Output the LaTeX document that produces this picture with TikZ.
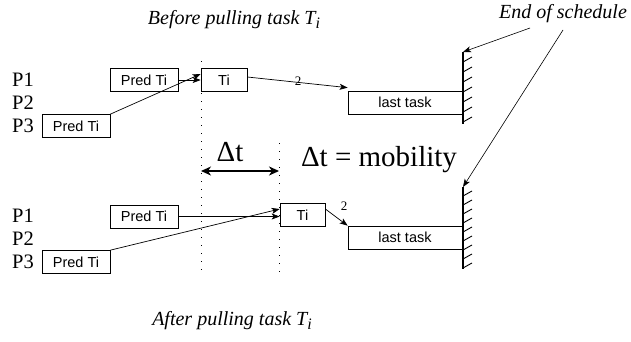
\documentclass[tikz,border=0pt]{standalone}
\usepackage{fontspec}
\setmainfont{Liberation Serif}
\setsansfont{Liberation Sans}
\usetikzlibrary{arrows.meta}
\newcommand{\myTi}{\textit{T}\raisebox{-0.4ex}{\itshape\fontsize{16}{16}\selectfont i}}
\begin{document}
\begin{tikzpicture}[x=1pt,y=-1pt,
  box/.style={draw,line width=0.7pt,inner sep=0pt,font=\sffamily\fontsize{14.5}{14.5}\selectfont,minimum width=68pt,minimum height=23pt},
  tibox/.style={box,minimum width=46pt},
  lastbox/.style={box,minimum width=114pt},
  conn/.style={line width=0.7pt,-{Stealth[length=8pt,width=6pt,inset=2pt]}},
  proc/.style={font=\fontsize{20.5}{20.5}\selectfont},
  ttl/.style={font=\itshape\fontsize{20}{20}\selectfont},
  big/.style={font=\fontsize{29}{29}\selectfont},
  small/.style={font=\fontsize{13}{13}\selectfont},
  wall/.style={line width=2pt},
  hatch/.style={line width=0.9pt},
  dotline/.style={line width=1pt,dash pattern=on 1pt off 7pt}]
\useasboundingbox (0,0) rectangle (631,341);
% titles
\node[ttl] (before) at (234,20) {Before pulling task \myTi};
\node[ttl] (after) at (232,321) {After pulling task \myTi};
\node[ttl] (eos) at (563,14) {End of schedule};
% dotted lines
\coordinate (d1t) at (201,61); \coordinate (d1b) at (201,276);
\coordinate (d2t) at (279,143); \coordinate (d2b) at (279,276);
\draw[dotline] (d1t) -- (d1b);
\draw[dotline] (d2t) -- (d2b);
% processor labels
\node[proc] (p1a) at (23,80) {P1};
\node[proc] (p2a) at (23,103) {P2};
\node[proc] (p3a) at (23,126) {P3};
\node[proc] (p1b) at (23,216) {P1};
\node[proc] (p2b) at (23,239) {P2};
\node[proc] (p3b) at (23,262) {P3};
% top row
\node[box] (pa1) at (144,80) {Pred Ti};
\node[tibox] (tia) at (224,80) {Ti};
\node[box] (pa3) at (76,126) {Pred Ti};
\node[lastbox] (la) at (405,102.5) {last task};
\draw[conn] (pa1) -- (tia);
\draw[conn] (pa3.north east) -- ([yshift=6pt]tia.west);
\draw[conn] ([yshift=3pt]tia.east) -- ([yshift=3pt]la.north west);
\node[small] (w2a) at (298,81) {2};
% bottom row
\node[box] (pb1) at (144,216.5) {Pred Ti};
\node[tibox,minimum width=45pt] (tib) at (302.5,215) {Ti};
\node[box] (pb3) at (76,262) {Pred Ti};
\node[lastbox] (lb) at (405,237.5) {last task};
\draw[conn] (pb1) -- (pb1 -| tib.west);
\draw[conn] (pb3.north east) -- ([yshift=6pt]tib.west);
\draw[conn] ([yshift=6pt]tib.east) -- (lb.north west);
\node[small] (w2b) at (344,206) {2};
% walls
\coordinate (wat) at (463,52); \coordinate (wab) at (463,124);
\coordinate (wbt) at (463,187); \coordinate (wbb) at (463,269);
\draw[wall] (wat) -- (wab);
\draw[wall] (wbt) -- (wbb);
\foreach \y in {62,72,82,92,102,112,122}
  \draw[hatch] (463,\y) -- (472,\y-5);
\foreach \y in {196,205,214,223,232,241,250,259,268}
  \draw[hatch] (463,\y) -- (472,\y-5);
% end of schedule arrows
\coordinate (e1) at (530,28); \coordinate (e2) at (563,30);
\draw[conn,line width=0.6pt] (e1) -- (wat);
\draw[conn,line width=0.6pt] (e2) -- (wbt);
% delta t
\coordinate (dl) at (201,171); \coordinate (dr) at (279,171);
\draw[line width=1.8pt,{Stealth[length=10pt,width=9pt,inset=3pt]}-{Stealth[length=10pt,width=9pt,inset=3pt]}] (dl) -- (dr);
\node[big] (dt) at (230,152) {Δt};
\node[big] (mob) at (379,160) {Δt = mobility};
\end{tikzpicture}
\end{document}
